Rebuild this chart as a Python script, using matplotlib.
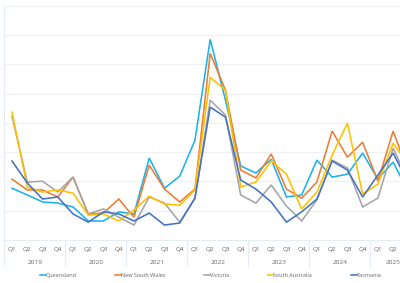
import matplotlib
matplotlib.use("Agg")
import matplotlib.pyplot as plt

plt.rcParams['font.family'] = ['Open Sans', 'DejaVu Sans']

# quarters Q1 2019 .. Q3 2025 (last one clipped at the right edge, its label is not shown)
quarters = ["Q1", "Q2", "Q3", "Q4"] * 6 + ["Q1", "Q2", ""]
years = ["2019", "2020", "2021", "2022", "2023", "2024", "2025"]

queensland = [1.77, 1.54, 1.30, 1.26, 1.13, 0.65, 0.65, 0.96, 0.89, 2.80, 1.77, 2.18,
              3.41, 6.86, 4.78, 2.53, 2.29, 2.76, 1.47, 1.54, 2.73, 2.15, 2.25, 2.97,
              2.08, 2.66, 1.64]
nsw = [2.08, 1.71, 1.71, 1.47, 2.15, 0.89, 0.92, 1.40, 0.78, 2.56, 1.74, 1.30,
       1.74, 6.38, 5.12, 2.39, 2.12, 2.94, 1.74, 1.43, 1.98, 3.72, 2.83, 3.34,
       2.01, 3.72, 2.32]
victoria = [4.23, 1.98, 2.01, 1.64, 2.15, 0.89, 1.06, 0.78, 0.51, 1.47, 1.26, 0.61,
            1.43, 4.78, 4.27, 1.54, 1.26, 1.88, 1.16, 0.65, 1.37, 2.73, 2.46, 1.13,
            1.43, 3.14, 2.01]
south_australia = [4.37, 1.81, 1.64, 1.71, 1.60, 0.85, 0.89, 0.65, 1.02, 1.50, 1.23, 1.19,
                   1.71, 5.56, 5.12, 1.81, 1.98, 2.70, 2.25, 1.06, 1.64, 2.90, 3.99, 1.57,
                   1.91, 3.31, 2.56]
tasmania = [2.70, 1.95, 1.40, 1.47, 0.89, 0.61, 0.96, 0.89, 0.65, 0.92, 0.51, 0.58,
            1.43, 4.54, 4.20, 2.05, 1.74, 1.30, 0.61, 0.96, 1.40, 2.70, 2.39, 1.47,
            2.22, 2.97, 1.95]

series = [("Queensland", queensland, "#1CB2EE"),
          ("New South Wales", nsw, "#ED7D31"),
          ("Victoria", victoria, "#A5A5A5"),
          ("South Australia", south_australia, "#FFC000"),
          ("Tasmania", tasmania, "#4472C4")]

fig = plt.figure(figsize=(4, 2.83), dpi=100)
ax = fig.add_axes([0.011, 0.152, 1.029, 0.827])

x = list(range(len(quarters)))
for name, vals, col in series:
    ax.plot(x, vals, color=col, lw=1.15, label=name, solid_joinstyle='miter')

ax.set_xlim(-0.5, len(quarters) - 0.5)
ax.set_ylim(0, 8)
ax.set_yticks(range(1, 9))
ax.set_yticklabels([])
ax.tick_params(axis='y', length=0)
ax.grid(axis='y', color='#EEF0F6', lw=0.8)
ax.set_axisbelow(True)

for s in ['top', 'right']:
    ax.spines[s].set_visible(False)
ax.spines['left'].set_color('#E6ECF5')
ax.spines['bottom'].set_color('#E6ECF5')
ax.spines['left'].set_linewidth(0.8)
ax.spines['bottom'].set_linewidth(0.8)

ax.set_xticks(x)
ax.set_xticklabels(quarters, fontsize=4.6, color='#666666')
ax.tick_params(axis='x', length=0, pad=5)

# year labels and separators under the quarter labels
tr = ax.get_xaxis_transform()
for k, yr in enumerate(years):
    first = 4 * k
    last = min(4 * k + 3, len(quarters) - 1)
    ax.text((first + last) / 2, -0.095, yr, transform=tr, ha='center', va='center',
            fontsize=4.6, color='#666666', clip_on=False)
    ax.plot([first - 0.5, first - 0.5], [0, -0.11], transform=tr, color='#E6ECF5',
            lw=0.8, clip_on=False)

fig.legend(loc='center', bbox_to_anchor=(0.527, 0.028), ncol=5, frameon=False,
           fontsize=4.0, handlelength=1.0, handletextpad=0.0, columnspacing=7.0,
           labelcolor='#666666')

fig.savefig("out.png", dpi=100)
